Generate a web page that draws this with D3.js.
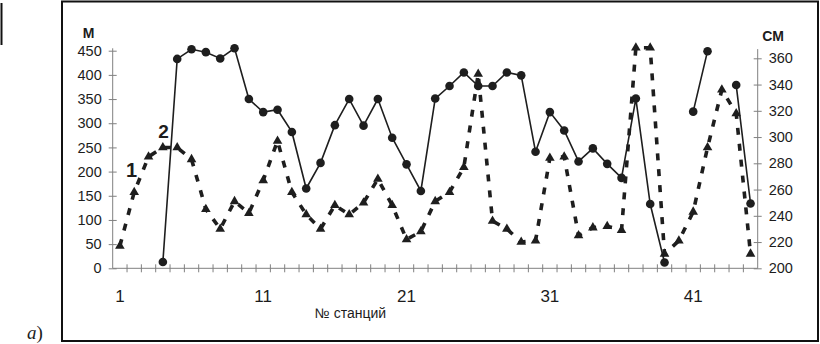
<!DOCTYPE html>
<html>
<head>
<meta charset="utf-8">
<script src="https://cdn.jsdelivr.net/npm/d3@7"></script>
<style>
  body { margin: 0; background: #fff; }
  text { font-family: "Liberation Sans", Arial, sans-serif; fill: #1c1c1c; }
</style>
</head>
<body>
<svg width="820" height="344"></svg>
<script>
// station numbers along the x axis
var stations = d3.range(1, 46);
var xLabels = [1, 11, 21, 31, 41];

// curve 2 (solid, circles), left axis, m ; null = no measurement
var depthM = [null, null, null, 13, 433, 453, 447, 434, 455, 350,
    323, 328, 282, 165, 218, 296, 350, 295, 350, 270,
    215, 160, 351, 377, 405, 377, 377, 405, 399, 241,
    323, 285, 221, 248, 216, 187, 351, 133, 12, null,
    324, 449, null, 379, 134];

// curve 1 (dashed, triangles), right axis, cm
var valueCm = [217, 258, 285, 292, 292, 283, 245, 230, 251, 242,
    267, 297, 258, 241, 230, 248, 241, 250, 268, 248,
    222, 228, 251, 258, 277, 348, 236, 230, 220, 221,
    284, 285, 225, 231, 232, 229, 368, 368, 211, 221,
    243, 292, 336, 318, 211];

var leftTicks = [0, 50, 100, 150, 200, 250, 300, 350, 400, 450];
var rightTicks = [200, 220, 240, 260, 280, 300, 320, 340, 360];

var svg = d3.select("svg");
var axisColor = "#808080";
var ink = "#1e1e1e";

var x = d3.scaleBand().domain(stations).range([112.7, 757.7]);
var cx = function (s) { return x(s) + x.bandwidth() / 2; };
var yL = d3.scaleLinear().domain([0, 450]).range([268.3, 50.7]);
var yR = d3.scaleLinear().domain([200, 360]).range([268.3, 58.3]);

// outer frame and the bits around it
svg.append("rect")
    .attr("x", 62).attr("y", 1.5)
    .attr("width", 756).attr("height", 339.5)
    .attr("fill", "none").attr("stroke", "#111").attr("stroke-width", 2);
svg.append("line")
    .attr("x1", 1.5).attr("x2", 1.5).attr("y1", 3).attr("y2", 45)
    .attr("stroke", "#111").attr("stroke-width", 2);
var a = svg.append("text").attr("x", 27).attr("y", 339)
    .style("font-family", "'Liberation Serif', 'DejaVu Serif', serif")
    .style("font-size", "19px");
a.append("tspan").style("font-style", "italic").text("a");
a.append("tspan").text(")");

// left axis
var gL = svg.append("g").attr("transform", "translate(112.7,0)")
    .call(d3.axisLeft(yL).tickValues(leftTicks).tickSize(4).tickPadding(7).tickSizeOuter(0));
gL.select(".domain").remove();
gL.append("line").attr("y1", yL(0)).attr("y2", yL(455)).attr("stroke", axisColor);
gL.selectAll(".tick line").attr("x1", 4).attr("x2", -4).attr("stroke", axisColor);
gL.selectAll(".tick text").style("font-size", "14.5px").style("font-family", null).attr("fill", ink);

// right axis
var gR = svg.append("g").attr("transform", "translate(757.7,0)")
    .call(d3.axisRight(yR).tickValues(rightTicks).tickSize(4).tickPadding(7).tickSizeOuter(0));
gR.select(".domain").remove();
gR.append("line").attr("y1", yR(200)).attr("y2", yR(367)).attr("stroke", axisColor);
gR.selectAll(".tick line").attr("x1", -4).attr("x2", 4).attr("stroke", axisColor);
gR.selectAll(".tick text").style("font-size", "14.5px").style("font-family", null).attr("fill", ink);

// x axis: ticks between stations, labels every 10th
var gX = svg.append("g").attr("transform", "translate(0," + yL(0) + ")");
gX.append("line").attr("x1", x.range()[0]).attr("x2", x.range()[1]).attr("stroke", axisColor);
gX.selectAll("line.st")
    .data(stations.slice(1))
    .enter().append("line")
    .attr("class", "st")
    .attr("x1", function (d) { return x(d); })
    .attr("x2", function (d) { return x(d); })
    .attr("y1", -4).attr("y2", 4)
    .attr("stroke", axisColor);
gX.selectAll("text")
    .data(xLabels)
    .enter().append("text")
    .attr("x", cx)
    .attr("y", 34)
    .attr("text-anchor", "middle")
    .style("font-size", "17px")
    .text(function (d) { return d; });

// axis titles
svg.append("text").attr("x", 88.5).attr("y", 38).attr("text-anchor", "middle")
    .style("font-size", "14px").style("font-weight", "bold").text("М");
svg.append("text").attr("x", 773).attr("y", 41).attr("text-anchor", "middle")
    .style("font-size", "14px").style("font-weight", "bold").text("СМ");
svg.append("text").attr("x", 350.5).attr("y", 318).attr("text-anchor", "middle")
    .style("font-size", "14px").text("№ станций");

// curve 1: dashed with triangles
var dashLine = d3.line()
    .x(function (d, i) { return cx(stations[i]); })
    .y(function (d) { return yR(d); });
svg.append("path")
    .datum(valueCm)
    .attr("d", dashLine)
    .attr("fill", "none")
    .attr("stroke", ink)
    .attr("stroke-width", 3.6)
    .attr("stroke-dasharray", "7,9");
svg.append("g").selectAll("path")
    .data(valueCm)
    .enter().append("path")
    .attr("d", d3.symbol().type(d3.symbolTriangle).size(40))
    .attr("transform", function (d, i) {
        return "translate(" + cx(stations[i]) + "," + yR(d) + ")";
    })
    .attr("fill", ink);

// curve 2: solid with circles
var solidLine = d3.line()
    .defined(function (d) { return d != null; })
    .x(function (d, i) { return cx(stations[i]); })
    .y(function (d) { return yL(d); });
svg.append("path")
    .datum(depthM)
    .attr("d", solidLine)
    .attr("fill", "none")
    .attr("stroke", ink)
    .attr("stroke-width", 1.6);
svg.append("g").selectAll("circle")
    .data(depthM.map(function (d, i) { return { s: stations[i], v: d }; })
        .filter(function (d) { return d.v != null; }))
    .enter().append("circle")
    .attr("cx", function (d) { return cx(d.s); })
    .attr("cy", function (d) { return yL(d.v); })
    .attr("r", 4.3)
    .attr("fill", ink);

// curve numbers
svg.append("text").attr("x", 131.5).attr("y", 177).attr("text-anchor", "middle")
    .style("font-size", "20px").style("font-weight", "bold").text("1");
svg.append("text").attr("x", 163.5).attr("y", 138).attr("text-anchor", "middle")
    .style("font-size", "19px").style("font-weight", "bold").text("2");
</script>
</body>
</html>
